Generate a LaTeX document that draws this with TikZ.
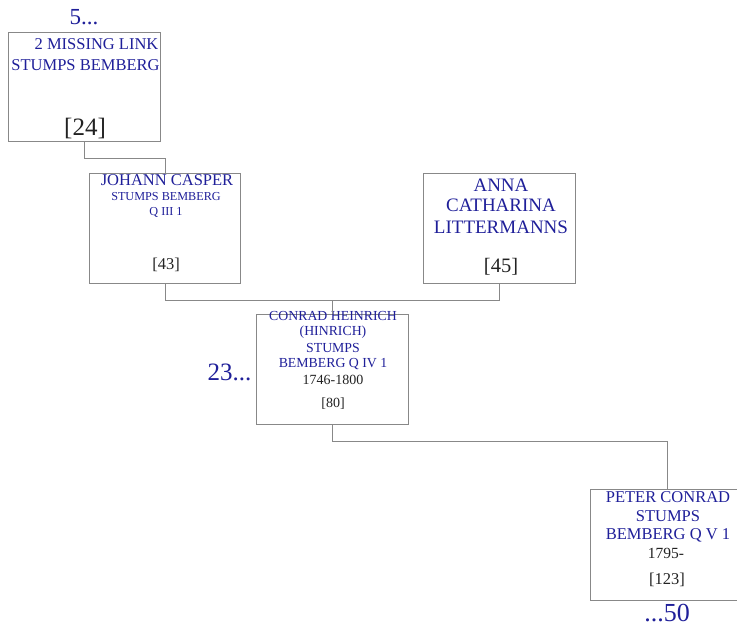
\documentclass[tikz,border=0pt]{standalone}
\usepackage{fontspec}
\setmainfont{Liberation Serif}
\definecolor{nameblue}{HTML}{1F1F99}
\definecolor{txtdark}{HTML}{222222}
\definecolor{linegray}{HTML}{888888}
\newcommand{\fs}[1]{\fontsize{#1}{#1}\selectfont}
\begin{document}
\begin{tikzpicture}[x=1pt,y=-1pt,
  box/.style={draw=linegray,line width=1.3pt,anchor=north west,inner sep=0pt},
  nm/.style={text=nameblue,inner sep=0pt,anchor=center},
  dt/.style={text=txtdark,inner sep=0pt,anchor=center},
  link/.style={draw=linegray,line width=1.3pt}]
\useasboundingbox (0,0) rectangle (737,626);
% boxes
\node[box,minimum width=152pt,minimum height=109pt] (b1) at (8,32) {};
\node[box,minimum width=151pt,minimum height=110pt] (b2) at (89,173) {};
\node[box,minimum width=152pt,minimum height=110pt] (b3) at (423,173) {};
\node[box,minimum width=152pt,minimum height=110pt] (b4) at (256,314) {};
\node[box,minimum width=152pt,minimum height=111pt] (b5) at (590,489) {};
% box 1
\node[nm,font=\fs{23}] (t5) at (84,17) {5...};
\node[nm,font=\fs{16.5}] (b1a) at (96.5,44) {2 MISSING LINK};
\node[nm,font=\fs{16.5}] (b1b) at (85.5,65) {STUMPS BEMBERG};
\node[dt,font=\fs{25}] (b1r) at (85,128) {[24]};
% box 2
\node[nm,font=\fs{16.5}] (b2a) at (167,180) {JOHANN CASPER};
\node[nm,font=\fs{12.2}] (b2b) at (166,197) {STUMPS BEMBERG};
\node[nm,font=\fs{12.2}] (b2c) at (166,212) {Q III 1};
\node[dt,font=\fs{16.5}] (b2r) at (166,265) {[43]};
% box 3
\node[nm,font=\fs{19}] (b3a) at (501,185) {ANNA};
\node[nm,font=\fs{19}] (b3b) at (501,205) {CATHARINA};
\node[nm,font=\fs{19}] (b3c) at (501,227) {LITTERMANNS};
\node[dt,font=\fs{20.5}] (b3r) at (501,267) {[45]};
% box 4
\node[nm,font=\fs{13.8}] (b4a) at (333,316) {CONRAD HEINRICH};
\node[nm,font=\fs{13.8}] (b4b) at (333,332) {(HINRICH)};
\node[nm,font=\fs{13.8}] (b4c) at (333,348) {STUMPS};
\node[nm,font=\fs{13.8}] (b4d) at (333,364) {BEMBERG Q IV 1};
\node[dt,font=\fs{14}] (b4e) at (333,380) {1746-1800};
\node[dt,font=\fs{14}] (b4r) at (333,404) {[80]};
\node[nm,font=\fs{25}] (t23) at (229.5,372) {23...};
% box 5
\node[nm,font=\fs{16.5}] (b5a) at (668,497) {PETER CONRAD};
\node[nm,font=\fs{16.5}] (b5b) at (668,516) {STUMPS};
\node[nm,font=\fs{16.5}] (b5c) at (668,535) {BEMBERG Q V 1};
\node[dt,font=\fs{15.5}] (b5d) at (666,553) {1795-};
\node[dt,font=\fs{16.5}] (b5r) at (667,580) {[123]};
\node[nm,font=\fs{26}] (t50) at (667,613) {...50};
% connectors
\draw[link] (b1.south) -- ++(0,16) -| (b2.north);
\coordinate (m1) at ([yshift=-16pt]b2.south);
\draw[link] (b2.south) -- (m1) -| (b3.south);
\draw[link] (b4.north) -- (b4.north |- m1);
\draw[link] (b4.south) -- ++(0,16) -| ([xshift=1pt]b5.north);
\end{tikzpicture}
\end{document}
